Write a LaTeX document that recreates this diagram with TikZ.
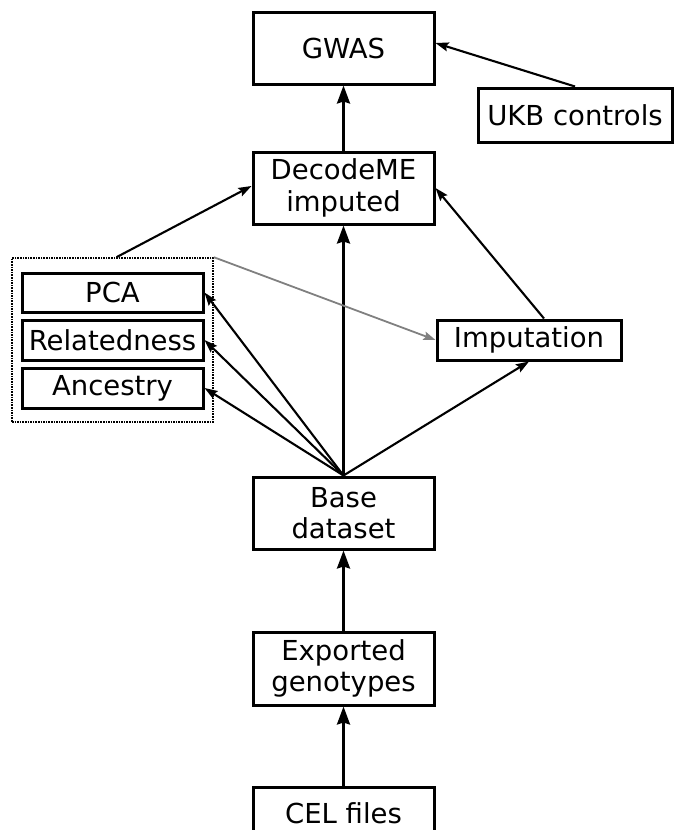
\documentclass[tikz,border=0pt]{standalone}
\usepackage{fontspec}
\setmainfont{DejaVu Sans}
\usetikzlibrary{arrows.meta}
\begin{document}
\begin{tikzpicture}[x=1pt,y=-1pt,
  box/.style={draw=black,line width=3pt,fill=white,inner sep=0pt,align=center,
    font=\fontsize{27.5}{31.5}\selectfont},
  flow/.style={line width=2.6pt,-{Stealth[length=18pt,width=13pt,inset=2pt]}},
  thin flow/.style={line width=2.1pt,-{Stealth[length=13pt,width=9pt,inset=2pt]}},
  grey flow/.style={line width=1.8pt,draw=black!50,-{Stealth[length=12pt,width=8.5pt,inset=2pt]}}]
\path[use as bounding box,clip] (0,0) rectangle (674,830);

% grouped QC steps
\node[draw=black,densely dotted,line width=1.6pt,minimum width=201pt,minimum height=164pt,inner sep=0pt]
  (grp) at (112.5,340) {};
\node[box,minimum width=181pt,minimum height=39pt] (pca) at (112.5,292.5) {PCA};
\node[box,minimum width=181pt,minimum height=40pt] (rel) at (112.5,340) {Relatedness};
\node[box,minimum width=181pt,minimum height=40pt] (anc) at (112.5,388) {Ancestry};

% main pipeline
\node[box,minimum width=181pt,minimum height=72pt] (gwas) at (343.5,48) {GWAS};
\node[box,minimum width=194pt,minimum height=54pt] (ukb) at (575,115) {UKB controls};
\node[box,minimum width=181pt,minimum height=72pt] (decode) at (343.5,188) {DecodeME\\imputed};
\node[box,minimum width=184pt,minimum height=40pt] (imput) at (529,340) {Imputation};
\node[box,minimum width=181pt,minimum height=72pt] (base) at (343.5,513) {Base\\dataset};
\node[box,minimum width=181pt,minimum height=73pt] (exp) at (343.5,668.5) {Exported\\genotypes};
\node[box,minimum width=181pt,minimum height=52pt] (cel) at (343.5,813) {CEL files};

% connectors
\draw[flow] (cel) -- (exp);
\draw[flow] (exp) -- (base);
\draw[flow] (base.north) -- (decode.south);
\draw[flow] (decode) -- (gwas);
\draw[thin flow] (ukb.north) -- ([yshift=5pt]gwas.east);
\draw[thin flow] ([xshift=15pt]imput.north) -- (decode.east);
\draw[thin flow] ([xshift=4pt]grp.north) -- ([yshift=2pt]decode.west);
\draw[grey flow] (grp.north east) -- (imput.west);
\draw[thin flow] (base.north) -- (pca.east);
\draw[thin flow] (base.north) -- (rel.east);
\draw[thin flow] (base.north) -- (anc.east);
\draw[thin flow] (base.north) -- (imput.south);
\end{tikzpicture}
\end{document}
